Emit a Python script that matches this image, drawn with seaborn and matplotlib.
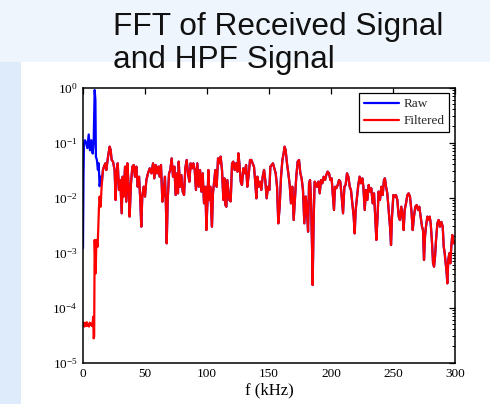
import numpy as np
import pandas as pd
import matplotlib
matplotlib.use("Agg")
import matplotlib.pyplot as plt
import seaborn as sns
from matplotlib.patches import Rectangle
from matplotlib.ticker import LogLocator, FixedLocator

# ---------------- data ----------------
raw_low_f = [0.0, 0.4, 0.8, 1.6, 2.4, 3.5, 4.6, 5.6, 6.7, 7.8, 8.6, 9.4, 10.0,
             10.4, 11.2, 12.0, 12.6, 13.4, 14.4, 15.2]
raw_low_mag = [0.0012, 0.025, 0.10, 0.11, 0.10, 0.079, 0.14, 0.072, 0.11, 0.063,
               0.10, 0.90, 0.60, 0.055, 0.048, 0.032, 0.042, 0.016, 0.024, 0.019]

filt_low_f = [0.0, 0.6, 1.2, 1.8, 2.4, 3.0, 3.6, 4.2, 4.8, 5.4, 6.0, 6.6, 7.2,
              7.8, 8.2, 8.6, 9.0, 9.4, 10.2, 10.8, 11.8, 12.9, 13.4, 14.2, 15.0, 15.6]
filt_low_mag = [4.8e-5, 5.3e-5, 4.5e-5, 5.2e-5, 4.6e-5, 5.4e-5, 4.7e-5, 5.0e-5,
                4.5e-5, 5.3e-5, 4.8e-5, 5.1e-5, 4.6e-5, 5.2e-5, 6.8e-5, 2.75e-5,
                3.0e-5, 1.69e-3, 4.18e-4, 1.69e-3, 1.28e-3, 6.8e-3, 1.04e-2,
                6.8e-3, 1.57e-2, 2.39e-2]

# above the HPF cut-off both spectra coincide
shared_f = [
    16.1, 16.9, 18.0, 18.8, 20.2, 21.5, 22.3, 23.1, 24.2, 25.5, 26.3, 26.9, 28.0,
    29.0, 30.1, 31.2, 32.0, 32.8, 33.9, 34.9, 35.8, 36.8, 37.6, 38.7, 39.8, 40.9,
    41.9, 43.0, 44.1, 45.2, 46.2, 47.0, 47.8, 48.9, 50.0, 51.1, 52.4, 53.8, 55.1,
    56.5, 57.5, 58.6, 59.7, 60.8, 61.8, 62.9, 64.0, 65.0, 66.1, 66.9, 67.5, 68.3,
    69.4, 70.4, 71.5, 72.6, 73.7, 74.7, 75.8, 76.6, 77.2, 78.2, 79.3, 80.4, 81.5,
    82.5, 83.6, 84.7, 85.8, 86.8, 87.9, 89.0, 90.1, 91.1, 92.2, 93.3, 94.4, 95.4,
    96.5, 97.6, 98.7, 99.5, 100.3, 101.1, 101.9, 102.7, 103.5, 104.0, 104.8, 105.6,
    106.7, 107.8, 108.9, 109.9, 111.0, 112.1, 113.2, 114.0, 114.8, 115.6, 116.4,
    117.2, 118.0, 119.1, 120.2, 121.2, 122.3, 123.4, 124.5, 125.3, 126.1, 127.2,
    128.2, 129.3, 130.4, 131.5, 132.5, 133.6, 134.7, 135.8, 136.8, 137.9, 139.0,
    139.8, 140.6, 141.7, 142.7, 143.8, 144.9, 146.0, 147.0, 148.1, 149.2, 150.3,
    151.1, 152.2, 153.2, 154.3, 155.4, 156.5, 157.5, 158.6, 159.7, 160.8, 161.8,
    162.6, 163.4, 164.5, 165.6, 166.7, 167.7, 168.8, 169.9, 171.0, 172.0, 173.1,
    174.2, 175.3, 176.3, 177.4, 178.5, 179.6, 180.6, 181.5, 182.3, 183.1, 183.9,
    184.7, 185.2, 186.0, 186.8, 187.6, 188.7, 189.8, 190.9, 191.9, 193.0, 194.1,
    195.2, 196.2, 197.3, 198.4, 199.5, 200.5, 201.6, 202.4, 203.2, 204.3, 205.4,
    206.5, 207.5, 208.6, 209.7, 210.8, 211.8, 212.9, 214.0, 215.1, 216.1, 217.2,
    218.3, 219.1, 219.9, 221.0, 222.0, 223.1, 224.2, 225.3, 226.1, 227.2, 228.2,
    229.3, 230.4, 231.5, 232.5, 233.6, 234.7, 235.8, 236.6, 237.4, 238.4, 239.5,
    240.6, 241.7, 242.7, 243.5, 244.4, 245.4, 246.5, 247.6, 248.4, 249.2, 250.3,
    251.3, 252.4, 253.5, 254.6, 255.6, 256.7, 257.8, 258.6, 259.4, 260.5, 261.6,
    262.6, 263.7, 264.8, 265.9, 266.9, 268.0, 269.1, 270.2, 271.2, 272.3, 273.4,
    274.2, 275.0, 275.8, 276.6, 277.7, 278.8, 279.6, 280.4, 281.5, 282.3, 283.1,
    283.9, 284.7, 285.8, 286.8, 287.9, 289.0, 290.1, 290.9, 291.7, 292.5, 293.3,
    293.8, 294.6, 295.4, 296.2, 297.0, 297.8, 298.7, 299.5, 300.0]
shared_mag = [
    0.0316, 0.0364, 0.0418, 0.0316, 0.0553, 0.084, 0.073, 0.0481, 0.0449, 0.0316,
    0.0090, 0.0239, 0.0418, 0.0137, 0.0208, 0.00516, 0.0239, 0.0104, 0.0364, 0.0084,
    0.0418, 0.0157, 0.00449, 0.0181, 0.0364, 0.039, 0.0239, 0.0364, 0.0157, 0.0239,
    0.0090, 0.00295, 0.0104, 0.0157, 0.0104, 0.0208, 0.0275, 0.0339, 0.0275, 0.0418,
    0.0223, 0.039, 0.0275, 0.0364, 0.0239, 0.039, 0.0084, 0.0119, 0.0239, 0.0068,
    0.00147, 0.0090, 0.0275, 0.0316, 0.0515, 0.0239, 0.0364, 0.0111, 0.0275, 0.0119,
    0.0449, 0.0157, 0.0256, 0.0128, 0.0111, 0.0339, 0.0481, 0.0275, 0.0194, 0.0418,
    0.0339, 0.0418, 0.0316, 0.0137, 0.0418, 0.0157, 0.0316, 0.0128, 0.0275, 0.00784,
    0.0157, 0.00256, 0.00784, 0.0316, 0.0090, 0.0157, 0.00516, 0.00295, 0.0119, 0.0181,
    0.0316, 0.0157, 0.0515, 0.0418, 0.0553, 0.0316, 0.0090, 0.0223, 0.0073, 0.0068,
    0.0208, 0.0137, 0.0090, 0.0085, 0.0418, 0.0449, 0.0316, 0.0418, 0.0295, 0.0636,
    0.0418, 0.0194, 0.0169, 0.0339, 0.0275, 0.039, 0.0157, 0.0256, 0.0481, 0.0481,
    0.0418, 0.0364, 0.0181, 0.00966, 0.0239, 0.0157, 0.0194, 0.0137, 0.0239, 0.0316,
    0.0208, 0.00966, 0.0157, 0.0137, 0.0364, 0.039, 0.0418, 0.0339, 0.0275, 0.0157,
    0.00339, 0.0068, 0.0239, 0.0481, 0.0636, 0.084, 0.073, 0.0418, 0.0275, 0.0169,
    0.00784, 0.0157, 0.0039, 0.0104, 0.0239, 0.0449, 0.0481, 0.0275, 0.0223, 0.0137,
    0.00339, 0.0104, 0.00593, 0.00239, 0.0181, 0.0208, 0.0090, 0.00128, 0.000256,
    0.0039, 0.0194, 0.0181, 0.0157, 0.0194, 0.0119, 0.0208, 0.0181, 0.0239, 0.0208,
    0.0256, 0.0295, 0.0275, 0.0208, 0.0223, 0.0104, 0.00593, 0.0157, 0.0147, 0.0169,
    0.0208, 0.0194, 0.0104, 0.00516, 0.0157, 0.0169, 0.0275, 0.0239, 0.0157, 0.0137,
    0.00784, 0.00449, 0.00223, 0.00593, 0.0104, 0.0169, 0.0239, 0.0181, 0.0223, 0.0157,
    0.00593, 0.0137, 0.0090, 0.0169, 0.0128, 0.0147, 0.00784, 0.0119, 0.0039, 0.00169,
    0.0039, 0.0128, 0.0090, 0.0157, 0.0111, 0.0208, 0.0223, 0.0157, 0.0119, 0.00593,
    0.00295, 0.00137, 0.00449, 0.0111, 0.0104, 0.0111, 0.0090, 0.00449, 0.0039, 0.0068,
    0.00449, 0.00256, 0.00593, 0.00784, 0.0111, 0.0119, 0.0104, 0.00593, 0.00256,
    0.00449, 0.0068, 0.0073, 0.00593, 0.0068, 0.00449, 0.00295, 0.00256, 0.000731,
    0.00194, 0.00295, 0.00449, 0.0039, 0.00449, 0.00339, 0.00147, 0.000636, 0.000553,
    0.00084, 0.00169, 0.00339, 0.0039, 0.00295, 0.0036, 0.00295, 0.00128, 0.000966,
    0.000636, 0.000418, 0.000275, 0.000731, 0.000966, 0.000636, 0.00128, 0.00208,
    0.00147, 0.00157, 0.00147]

series_names = ["Raw", "Filtered"]
series_colors = ["#0000ff", "#ff0000"]
x_ticks = [0, 50, 100, 150, 200, 250, 300]
title_lines = ["FFT of Received Signal", "and HPF Signal"]
x_label = "f (kHz)"

# ---------------- build long table ----------------
raw_f = raw_low_f + shared_f
raw_m = raw_low_mag + shared_mag
fil_f = filt_low_f + shared_f
fil_m = filt_low_mag + shared_mag
df = pd.DataFrame({
    "f": raw_f + fil_f,
    "mag": raw_m + fil_m,
    "series": [series_names[0]] * len(raw_f) + [series_names[1]] * len(fil_f),
})

# ---------------- figure ----------------
sns.set_theme(style="white")
plt.rcParams["font.family"] = ["Liberation Serif", "DejaVu Serif"]
plt.rcParams["mathtext.fontset"] = "custom"
plt.rcParams["mathtext.rm"] = "Liberation Serif"
plt.rcParams["mathtext.it"] = "Liberation Serif:italic"
plt.rcParams["mathtext.bf"] = "Liberation Serif:bold"

W, H = 490, 404
fig = plt.figure(figsize=(W / 100, H / 100), dpi=100, facecolor="#eff5fd")
# white content panel and left light-blue strip
fig.patches.append(Rectangle((21 / W, 0), 1 - 21 / W, 1 - 62 / H,
                             transform=fig.transFigure, facecolor="white",
                             edgecolor="none", zorder=-2))
fig.patches.append(Rectangle((0, 0), 21 / W, 1 - 62 / H,
                             transform=fig.transFigure, facecolor="#deebfa",
                             edgecolor="none", zorder=-2))

ax = fig.add_axes([83 / W, 1 - 362.5 / H, (455 - 83) / W, (362.5 - 87.5) / H])
ax.set_zorder(2)
ax.set_facecolor("white")

sns.lineplot(data=df, x="f", y="mag", hue="series", hue_order=series_names,
             palette=dict(zip(series_names, series_colors)), estimator=None,
             sort=False, linewidth=1.6, ax=ax, legend=True)

ax.set_yscale("log")
ax.set_xlim(0, 300)
ax.set_ylim(1e-5, 1)
ax.xaxis.set_major_locator(FixedLocator(x_ticks))
ax.set_xticklabels([str(t) for t in x_ticks])
ax.yaxis.set_major_locator(LogLocator(base=10, numticks=10))
ax.yaxis.set_minor_locator(LogLocator(base=10, subs=np.arange(2, 10), numticks=20))

for s in ax.spines.values():
    s.set_visible(True)
    s.set_color("black")
    s.set_linewidth(1.1)

ax.tick_params(axis="both", which="both", direction="in", colors="black",
               top=True, right=True, labelsize=9.5, pad=4)
ax.tick_params(axis="both", which="major", length=4.5, width=0.9)
ax.tick_params(axis="y", which="minor", length=2.5, width=0.7)
ax.tick_params(axis="x", which="minor", bottom=False, top=False)

ax.set_xlabel(x_label, fontsize=12, color="black", labelpad=2)
ax.set_ylabel("")

handles, labels = ax.get_legend_handles_labels()
leg = ax.legend(handles, labels, loc="upper right", fontsize=9.5,
                frameon=True, fancybox=False, shadow=False,
                handlelength=2.7, handletextpad=0.3, borderpad=0.35,
                labelspacing=0.35, borderaxespad=0.45)
leg.get_frame().set_edgecolor("black")
leg.get_frame().set_linewidth(0.9)
leg.get_frame().set_facecolor("white")
leg.get_frame().set_alpha(1)

for i, (line, yb) in enumerate(zip(title_lines, [35, 68.3])):
    fig.text(113 / W, 1 - yb / H, line, ha="left", va="baseline",
             fontsize=22.8, color="#111111",
             family=["Liberation Sans", "DejaVu Sans"], zorder=5)

fig.savefig("out.png", dpi=100, facecolor=fig.get_facecolor())
